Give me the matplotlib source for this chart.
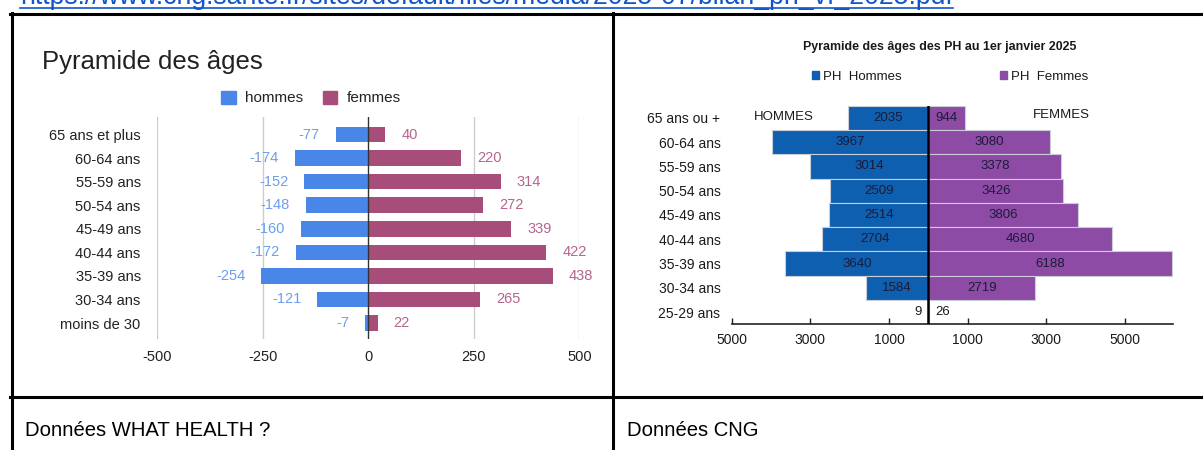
import matplotlib
matplotlib.use("Agg")
import matplotlib.pyplot as plt
from matplotlib.lines import Line2D
from matplotlib.patches import Patch
from matplotlib import font_manager

# ---------------- data ----------------
wh_categories = ['65 ans et plus', '60-64 ans', '55-59 ans', '50-54 ans', '45-49 ans',
                 '40-44 ans', '35-39 ans', '30-34 ans', 'moins de 30']
wh_hommes = [77, 174, 152, 148, 160, 172, 254, 121, 7]
wh_femmes = [40, 220, 314, 272, 339, 422, 438, 265, 22]
wh_xticks = [-500, -250, 0, 250, 500]

cng_categories = ['65 ans ou +', '60-64 ans', '55-59 ans', '50-54 ans', '45-49 ans',
                  '40-44 ans', '35-39 ans', '30-34 ans', '25-29 ans']
cng_hommes = [2035, 3967, 3014, 2509, 2514, 2704, 3640, 1584, 9]
cng_femmes = [944, 3080, 3378, 3426, 3806, 4680, 6188, 2719, 26]
cng_xticks = [-5000, -3000, -1000, 1000, 3000, 5000]

url_text = "https://www.cng.sante.fr/sites/default/files/media/2025-07/bilan_ph_vf_2025.pdf"
caption_left = "Données WHAT HEALTH ?"
caption_right = "Données CNG"

# ---------------- setup ----------------
W, H = 1203, 450
plt.rcParams['font.family'] = ['Liberation Sans', 'DejaVu Sans']
fig = plt.figure(figsize=(W / 100, H / 100), dpi=100)
fig.patch.set_facecolor('white')

names = {f.name for f in font_manager.fontManager.ttflist}
narrow = 'Liberation Sans Narrow' if 'Liberation Sans Narrow' in names else 'Liberation Sans'


def fx(px):
    return px / W


def fy(py):
    return 1 - py / H


# ---------------- table lines ----------------
lw_tab = 2.2
fig.add_artist(Line2D([fx(10), 1], [fy(14), fy(14)], color='black', lw=lw_tab))
fig.add_artist(Line2D([fx(10), 1], [fy(396.5), fy(396.5)], color='black', lw=lw_tab))
fig.add_artist(Line2D([fx(11.5), fx(11.5)], [fy(13), 0], color='black', lw=lw_tab))
fig.add_artist(Line2D([fx(613), fx(613)], [fy(13), 0], color='black', lw=lw_tab))

# ---------------- URL (cut off at top) ----------------
url = fig.text(fx(20), fy(3.5), url_text, color='#1155cc', fontsize=16,
               ha='left', va='baseline')
fig.canvas.draw()
r = fig.canvas.get_renderer()
bb = url.get_window_extent(r)
url.set_fontsize(16 * (958 - 20) / bb.width)
fig.canvas.draw()
bb = url.get_window_extent(r)
fig.add_artist(Line2D([bb.x0 / W, bb.x1 / W], [fy(7.5), fy(7.5)], color='#1155cc', lw=1.2))

# ---------------- captions ----------------
cap1 = fig.text(fx(25), fy(436.5), caption_left, fontsize=17, family=[narrow, 'DejaVu Sans'],
                color='black', ha='left', va='baseline')
cap2 = fig.text(fx(627), fy(436.5), caption_right, fontsize=17, family=[narrow, 'DejaVu Sans'],
                color='black', ha='left', va='baseline')
fig.canvas.draw()
bbc = cap1.get_window_extent(r)
fs = 17 * 245 / bbc.width
cap1.set_fontsize(fs)
cap2.set_fontsize(fs)

# ---------------- left chart (WHAT HEALTH) ----------------
blue = '#4a86e8'
mag = '#a64d79'
axL = fig.add_axes([fx(157.3), fy(339.3), fx(579.3 - 157.3), (339.3 - 117.3) / H])
yL = list(range(len(wh_categories)))
neg_h = [-v for v in wh_hommes]
axL.barh(yL, neg_h, height=0.66, color=blue, zorder=2)
axL.barh(yL, wh_femmes, height=0.66, color=mag, zorder=2)
axL.set_xlim(-500, 500)
axL.set_ylim(8 + 0.69, -0.73)
axL.set_xticks(wh_xticks)
axL.set_xticklabels([str(t) for t in wh_xticks])
axL.set_yticks(yL)
axL.set_yticklabels(wh_categories)
axL.tick_params(axis='both', length=0, labelsize=10.5, labelcolor='#222222')
axL.tick_params(axis='y', pad=12)
axL.tick_params(axis='x', pad=8)
for s in axL.spines.values():
    s.set_visible(False)
for t in wh_xticks:
    if t != 0:
        axL.axvline(t, color='#cccccc', lw=1, zorder=1)
axL.axvline(0, color='#333333', lw=1, zorder=3)
for i in yL:
    axL.annotate(f"-{wh_hommes[i]}", (neg_h[i], i), xytext=(-11.5, 0), textcoords='offset points',
                 ha='right', va='center', fontsize=10.5, color='#6d9eeb')
    axL.annotate(f"{wh_femmes[i]}", (wh_femmes[i], i), xytext=(11.5, 0), textcoords='offset points',
                 ha='left', va='center', fontsize=10.5, color='#b5658f')

fig.text(fx(42), fy(62), "Pyramide des âges", fontsize=18.5, color='#212121',
         ha='left', va='center')
legL = fig.legend(handles=[Patch(color=blue, label='hommes'), Patch(color=mag, label='femmes')],
                  loc='center', bbox_to_anchor=(fx(311), fy(98)), ncol=2, frameon=False,
                  fontsize=11, handlelength=0.95, handleheight=0.95, handletextpad=0.6,
                  columnspacing=1.3, labelcolor='#222222')

# ---------------- right chart (CNG) ----------------
cblue = '#0e5fb0'
cpurp = '#8d4ba6'
axR = fig.add_axes([fx(731.6), fy(324.3), fx(1172.5 - 731.6), (324.3 - 105.6) / H])
yR = list(range(len(cng_categories)))
neg_c = [-v for v in cng_hommes]
axR.barh(yR, neg_c, height=1.0, color=cblue, edgecolor='#c9cdd6', lw=0.8, zorder=2)
axR.barh(yR, cng_femmes, height=1.0, color=cpurp, edgecolor='#c9cdd6', lw=0.8, zorder=2)
axR.set_xlim(-5000, 6206)
axR.set_ylim(8.5, -0.5)
axR.set_xticks(cng_xticks)
axR.set_xticklabels([str(abs(t)) for t in cng_xticks])
axR.set_yticks(yR)
axR.set_yticklabels(cng_categories)
axR.tick_params(axis='y', length=0, pad=8, labelsize=10, labelcolor='#1a1a1a')
axR.tick_params(axis='x', direction='in', length=4, width=1, color='#222222',
                pad=6, labelsize=10, labelcolor='#1a1a1a')
for k in ['top', 'right', 'left']:
    axR.spines[k].set_visible(False)
axR.spines['bottom'].set_color('#222222')
axR.spines['bottom'].set_linewidth(1.2)
axR.axvline(0, color='black', lw=1.8, zorder=3)
lab_col = '#1b1b38'
for i in yR:
    if cng_hommes[i] < 300:
        axR.annotate(str(cng_hommes[i]), (0, i), xytext=(-5, 0), textcoords='offset points',
                     ha='right', va='center', fontsize=9.5, color='#1a1a1a')
    else:
        axR.text(neg_c[i] / 2, i, str(cng_hommes[i]), ha='center', va='center',
                 fontsize=9.5, color=lab_col, zorder=4)
    if cng_femmes[i] < 300:
        axR.annotate(str(cng_femmes[i]), (0, i), xytext=(5, 0), textcoords='offset points',
                     ha='left', va='center', fontsize=9.5, color='#1a1a1a')
    else:
        axR.text(cng_femmes[i] / 2, i, str(cng_femmes[i]), ha='center', va='center',
                 fontsize=9.5, color=lab_col, zorder=4)

fig.text(fx(940), fy(47), "Pyramide des âges des PH au 1er janvier 2025", fontsize=8.9,
         fontweight='bold', color='#1a1a1a', ha='center', va='center')
fig.text(fx(784), fy(117), "HOMMES", fontsize=9.5, color='#1a1a1a', ha='center', va='center')
fig.text(fx(1061), fy(115), "FEMMES", fontsize=9.5, color='#1a1a1a', ha='center', va='center')
legR1 = fig.legend(handles=[Patch(color=cblue, label='PH  Hommes')], loc='center left',
                   bbox_to_anchor=(fx(800), fy(77)), frameon=False, fontsize=9.5,
                   handlelength=0.55, handleheight=0.55, handletextpad=0.3, labelcolor='#1a1a1a')
legR2 = fig.legend(handles=[Patch(color=cpurp, label='PH  Femmes')], loc='center left',
                   bbox_to_anchor=(fx(988), fy(77)), frameon=False, fontsize=9.5,
                   handlelength=0.55, handleheight=0.55, handletextpad=0.3, labelcolor='#1a1a1a')

fig.savefig('out.png', dpi=100, facecolor='white')
